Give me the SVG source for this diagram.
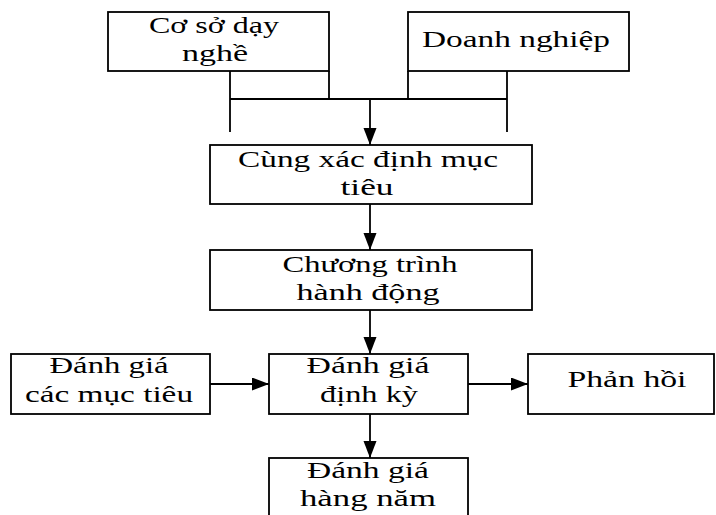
<svg xmlns="http://www.w3.org/2000/svg" width="716" height="515" viewBox="0 0 716 515">
<style>
.box{fill:#fff;stroke:#000;stroke-width:1.8}
.t{font-family:'Liberation Serif','DejaVu Serif',serif;font-size:24px;fill:#000;text-anchor:middle}
.c{fill:none;stroke:#000;stroke-width:1.8}
</style>
<defs>
<marker id="ah" markerUnits="userSpaceOnUse" markerWidth="18" markerHeight="14" refX="17" refY="6.5" orient="auto">
<path d="M0,0 L17,6.5 L0,13 Z" fill="#000"/>
</marker>
</defs>
<rect width="716" height="515" fill="#fff"/>
<g id="connectors">
<path class="c" d="M230,71 V132 M329,71 V99 M408,71 V99 M507,71 V132 M230,99 H507"/>
<path class="c" d="M370,99 V145" marker-end="url(#ah)"/>
<path class="c" d="M370,204 V250" marker-end="url(#ah)"/>
<path class="c" d="M370,310 V354" marker-end="url(#ah)"/>
<path class="c" d="M210,384 H269" marker-end="url(#ah)"/>
<path class="c" d="M468,384 H528" marker-end="url(#ah)"/>
<path class="c" d="M370,414 V458" marker-end="url(#ah)"/>
</g>
<g id="co-so-day-nghe">
<rect class="box" x="108" y="12" width="221" height="59"/>
<text class="t" x="214" y="33" textLength="130" lengthAdjust="spacingAndGlyphs">Cơ sở dạy</text>
<text class="t" x="215" y="61" textLength="66" lengthAdjust="spacingAndGlyphs">nghề</text>
</g>
<g id="doanh-nghiep">
<rect class="box" x="408" y="12" width="221" height="59"/>
<text class="t" x="516" y="47" textLength="188" lengthAdjust="spacingAndGlyphs">Doanh nghiệp</text>
</g>
<g id="cung-xac-dinh">
<rect class="box" x="210" y="145" width="322" height="59"/>
<text class="t" x="368" y="167" textLength="260" lengthAdjust="spacingAndGlyphs">Cùng xác định mục</text>
<text class="t" x="367" y="195" textLength="53" lengthAdjust="spacingAndGlyphs">tiêu</text>
</g>
<g id="chuong-trinh">
<rect class="box" x="210" y="250" width="322" height="60"/>
<text class="t" x="370" y="272" textLength="175" lengthAdjust="spacingAndGlyphs">Chương trình</text>
<text class="t" x="368" y="300" textLength="143" lengthAdjust="spacingAndGlyphs">hành động</text>
</g>
<g id="danh-gia-muc-tieu">
<rect class="box" x="11" y="354" width="199" height="60"/>
<text class="t" x="109" y="373" textLength="119" lengthAdjust="spacingAndGlyphs">Đánh giá</text>
<text class="t" x="109" y="402" textLength="168" lengthAdjust="spacingAndGlyphs">các mục tiêu</text>
</g>
<g id="danh-gia-dinh-ky">
<rect class="box" x="269" y="354" width="199" height="60"/>
<text class="t" x="368" y="373" textLength="123" lengthAdjust="spacingAndGlyphs">Đánh giá</text>
<text class="t" x="369" y="402" textLength="98" lengthAdjust="spacingAndGlyphs">định kỳ</text>
</g>
<g id="phan-hoi">
<rect class="box" x="528" y="354" width="186" height="60"/>
<text class="t" x="627" y="387" textLength="119" lengthAdjust="spacingAndGlyphs">Phản hồi</text>
</g>
<g id="danh-gia-hang-nam">
<rect class="box" x="269" y="458" width="199" height="62"/>
<text class="t" x="368" y="478" textLength="122" lengthAdjust="spacingAndGlyphs">Đánh giá</text>
<text class="t" x="368" y="506" textLength="136" lengthAdjust="spacingAndGlyphs">hàng năm</text>
</g>
</svg>
